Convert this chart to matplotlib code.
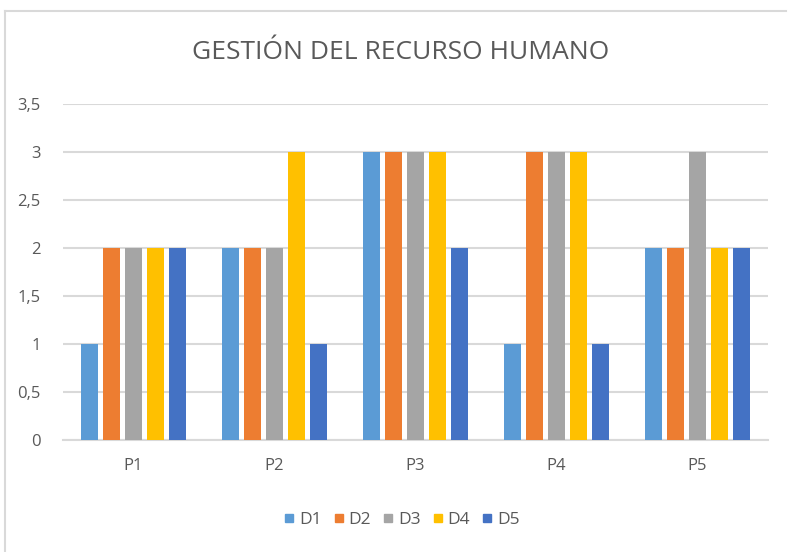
import numpy as np
import matplotlib
matplotlib.use('Agg')
import matplotlib.pyplot as plt
from matplotlib.lines import Line2D
from matplotlib.ticker import FuncFormatter

categories = ['P1', 'P2', 'P3', 'P4', 'P5']
series = ['D1', 'D2', 'D3', 'D4', 'D5']
D1 = [1, 2, 3, 1, 2]
D2 = [2, 2, 3, 3, 2]
D3 = [2, 2, 3, 3, 3]
D4 = [2, 3, 3, 3, 2]
D5 = [2, 1, 2, 1, 2]
colors = ['#5B9BD5', '#ED7D31', '#A5A5A5', '#FFC000', '#4472C4']

plt.rcParams['font.family'] = ['Open Sans', 'DejaVu Sans']
txt = '#595959'

fig = plt.figure(figsize=(7.88, 5.52), dpi=100)
ax = fig.add_axes([0.080, 0.2029, 0.8946, 0.6087])

x = np.arange(len(categories))
w = 0.12
step = 0.156
for i, (vals, c, name) in enumerate(zip([D1, D2, D3, D4, D5], colors, series)):
    ax.bar(x + (i - 2) * step, vals, w, color=c, label=name, zorder=3)

ax.set_xlim(-0.5, 4.5)
ax.set_ylim(0, 3.5)
ax.set_yticks(np.arange(0, 3.51, 0.5))
ax.yaxis.set_major_formatter(FuncFormatter(lambda v, p: ('%g' % v).replace('.', ',')))
ax.set_xticks(x)
ax.set_xticklabels(categories)
ax.tick_params(axis='both', length=0, labelsize=12, colors=txt)
ax.tick_params(axis='x', pad=13)
ax.tick_params(axis='y', pad=16)
ax.grid(axis='y', color='#D9D9D9', linewidth=1.5, zorder=0)
for s in ['top', 'right', 'left']:
    ax.spines[s].set_visible(False)
ax.spines['bottom'].set_color('#D9D9D9')
ax.spines['bottom'].set_linewidth(1.5)

fig.text(0.508, 0.905, 'GESTIÓN DEL RECURSO HUMANO', ha='center', va='center',
         fontsize=19, color=txt)

handles = [Line2D([], [], marker='s', linestyle='', markersize=6, color=c) for c in colors]
fig.legend(handles, series, loc='center', bbox_to_anchor=(0.51, 0.058), ncol=5,
           frameon=False, fontsize=12.5, handlelength=0.6, handletextpad=0.25,
           columnspacing=0.7, labelcolor=txt)

# chart frame edge
fig.add_artist(Line2D([0.006, 0.998], [0.980, 0.980], color='#D9D9D9', linewidth=1.5))
fig.add_artist(Line2D([0.006, 0.006], [0.0, 0.980], color='#D9D9D9', linewidth=1.5))

fig.savefig('out.png', dpi=100)
